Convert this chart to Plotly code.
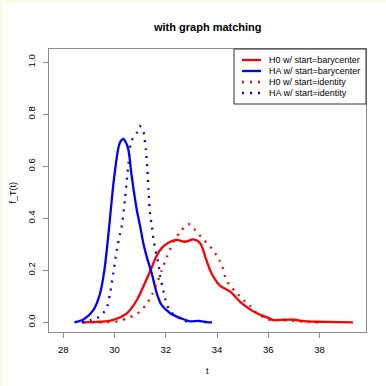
import plotly.graph_objects as go

# ---------------- data ----------------
t_h0_bary = [28.72, 29.3, 29.8, 30.1, 30.48, 30.87, 31.2, 31.42, 31.65, 31.88, 32.17, 32.43,
             32.75, 33.08, 33.34, 33.54, 33.73, 33.93, 34.12, 34.51, 34.9, 35.23, 35.55,
             35.95, 36.2, 36.6, 36.98, 37.5, 38.2, 39.3]
f_h0_bary = [0.0, 0.002, 0.006, 0.015, 0.035, 0.086, 0.155, 0.204, 0.258, 0.29, 0.31, 0.317,
             0.31, 0.319, 0.304, 0.252, 0.2, 0.163, 0.14, 0.118, 0.079, 0.054, 0.035,
             0.019, 0.009, 0.01, 0.01, 0.004, 0.002, 0.0]

t_ha_bary = [28.43, 28.8, 29.17, 29.43, 29.6, 29.76, 29.95, 30.09, 30.2, 30.34, 30.45, 30.54,
             30.67, 30.87, 31.0, 31.13, 31.26, 31.45, 31.65, 31.84, 32.17, 32.43, 32.69,
             32.95, 33.27, 33.6, 33.8]
f_ha_bary = [0.0, 0.012, 0.047, 0.11, 0.2, 0.34, 0.53, 0.637, 0.69, 0.705, 0.69, 0.663,
             0.56, 0.43, 0.368, 0.3, 0.25, 0.188, 0.11, 0.066, 0.035, 0.022, 0.012,
             0.004, 0.006, 0.001, 0.0]

t_h0_iden = [28.78, 29.5, 30.0, 30.2, 30.54, 30.77, 30.99, 31.26, 31.45, 31.65, 31.84, 32.04,
             32.3, 32.56, 32.88, 33.1, 33.27, 33.44, 33.62, 33.8, 33.97, 34.1, 34.21, 34.34,
             34.51, 34.7, 34.88, 35.1, 35.29, 35.45, 35.66, 35.88, 36.14, 36.4, 36.95, 37.5, 38.0]
f_h0_iden = [0.0, 0.0, 0.003, 0.006, 0.018, 0.027, 0.041, 0.073, 0.105, 0.15, 0.2, 0.252,
             0.31, 0.348, 0.378, 0.36, 0.342, 0.319, 0.304, 0.282, 0.259, 0.237, 0.212, 0.167,
             0.14, 0.12, 0.101, 0.079, 0.063, 0.043, 0.031, 0.013, 0.009, 0.009, 0.006, 0.002, 0.0]

t_ha_iden = [28.72, 29.1, 29.34, 29.55, 29.7, 29.82, 29.95, 30.09, 30.21, 30.28, 30.41, 30.54,
             30.63, 30.71, 30.87, 30.97, 31.1, 31.15, 31.22, 31.28, 31.32, 31.39, 31.45, 31.52,
             31.65, 31.71, 31.78, 31.9, 31.97, 32.17, 32.36, 32.6, 32.82]
f_ha_iden = [0.0, 0.01, 0.018, 0.035, 0.058, 0.11, 0.19, 0.28, 0.34, 0.37, 0.48, 0.61,
             0.69, 0.708, 0.73, 0.755, 0.743, 0.72, 0.663, 0.586, 0.51, 0.41, 0.374, 0.317,
             0.25, 0.227, 0.175, 0.124, 0.092, 0.041, 0.028, 0.012, 0.003]

legend_labels = ["H0 w/ start=barycenter", "HA w/ start=barycenter",
                 "H0 w/ start=identity", "HA w/ start=identity"]
x_ticks = [28, 30, 32, 34, 36, 38]
y_ticks = [0.0, 0.2, 0.4, 0.6, 0.8, 1.0]

# ---------------- styling ----------------
RED = "#ff0000"
BLUE = "#0000ff"
DOT = "2px,6px"
FONT = "Liberation Sans, Arial, Helvetica, sans-serif"
GRAY = "#8c8c8c"
CREAM = "#fafaec"

series = [
    (t_h0_bary, f_h0_bary, RED, "solid"),
    (t_ha_bary, f_ha_bary, BLUE, "solid"),
    (t_h0_iden, f_h0_iden, RED, DOT),
    (t_ha_iden, f_ha_iden, BLUE, DOT),
]

fig = go.Figure()
for (tx, fy, col, dash), name in zip(series, legend_labels):
    fig.add_trace(go.Scatter(x=tx, y=fy, mode="lines", name=name, showlegend=False,
                             line=dict(color=col, width=2.3, dash=dash,
                                       shape="spline", smoothing=0.8)))

# plot area in pixels
L, R, T, B = 49, 366, 49, 332
W, H = R - L, B - T


def px(x):
    return (x - L) / W


def py(y):
    return (B - y) / H


shapes = [
    # cream strips along the top and left edge of the page
    dict(type="rect", xref="paper", yref="paper", x0=px(0), x1=px(386), y0=py(3), y1=py(0),
         fillcolor=CREAM, line=dict(width=0), layer="above"),
    dict(type="rect", xref="paper", yref="paper", x0=px(0), x1=px(3), y0=py(386), y1=py(0),
         fillcolor=CREAM, line=dict(width=0), layer="above"),
    # legend box
    dict(type="rect", xref="paper", yref="paper", x0=px(234), x1=px(366), y0=py(104), y1=py(49),
         fillcolor="white", line=dict(color="#333333", width=1), layer="above"),
]
annotations = []
row_y = [60, 71, 82, 93]
for (tx, fy, col, dash), name, ry in zip(series, legend_labels, row_y):
    shapes.append(dict(type="line", xref="paper", yref="paper", x0=px(242), x1=px(261),
                       y0=py(ry), y1=py(ry), line=dict(color=col, width=2.3, dash=dash)))
    annotations.append(dict(xref="paper", yref="paper", x=px(267), y=py(ry), text=name,
                            showarrow=False, xanchor="left", yanchor="middle",
                            font=dict(size=9, color="black", family=FONT)))

# axis titles and main title
annotations.append(dict(xref="paper", yref="paper", x=px(207.5), y=py(27), text="<b>with graph matching</b>",
                        showarrow=False, xanchor="center", yanchor="middle",
                        font=dict(size=11, color="black", family=FONT)))
annotations.append(dict(xref="paper", yref="paper", x=px(207.5), y=py(371), text="t",
                        showarrow=False, xanchor="center", yanchor="middle",
                        font=dict(size=9, color="black", family=FONT)))
annotations.append(dict(xref="paper", yref="paper", x=px(12.5), y=py(193), text="f_T(t)",
                        showarrow=False, xanchor="center", yanchor="middle", textangle=-90,
                        font=dict(size=9, color="black", family=FONT)))

fig.update_layout(
    width=386, height=386,
    margin=dict(l=L, r=386 - R, t=T, b=386 - B, autoexpand=False),
    paper_bgcolor="white",
    plot_bgcolor="white",
    font=dict(family=FONT, size=9, color="black"),
    shapes=shapes,
    annotations=annotations,
    showlegend=False,
)
fig.update_xaxes(range=[27.44, 39.81], tickvals=x_ticks, ticktext=[str(v) for v in x_ticks],
                 showgrid=False, zeroline=False, showline=True, mirror=True, automargin=False,
                 linecolor=GRAY, linewidth=1, ticks="outside", ticklen=5, tickcolor=GRAY,
                 tickfont=dict(size=9.5, color="black"), ticklabelstandoff=4)
fig.update_yaxes(range=[-0.037, 1.051], tickvals=y_ticks, ticktext=[f"{v:.1f}" for v in y_ticks],
                 showgrid=False, zeroline=False, showline=True, mirror=True, automargin=False,
                 linecolor=GRAY, linewidth=1, ticks="outside", ticklen=5, tickcolor=GRAY,
                 tickangle=-90, tickfont=dict(size=9.5, color="black"), ticklabelstandoff=4)

fig.write_html("out.html", config={"displayModeBar": False},
               post_script="document.body.style.margin='0';document.body.style.padding='0';")
